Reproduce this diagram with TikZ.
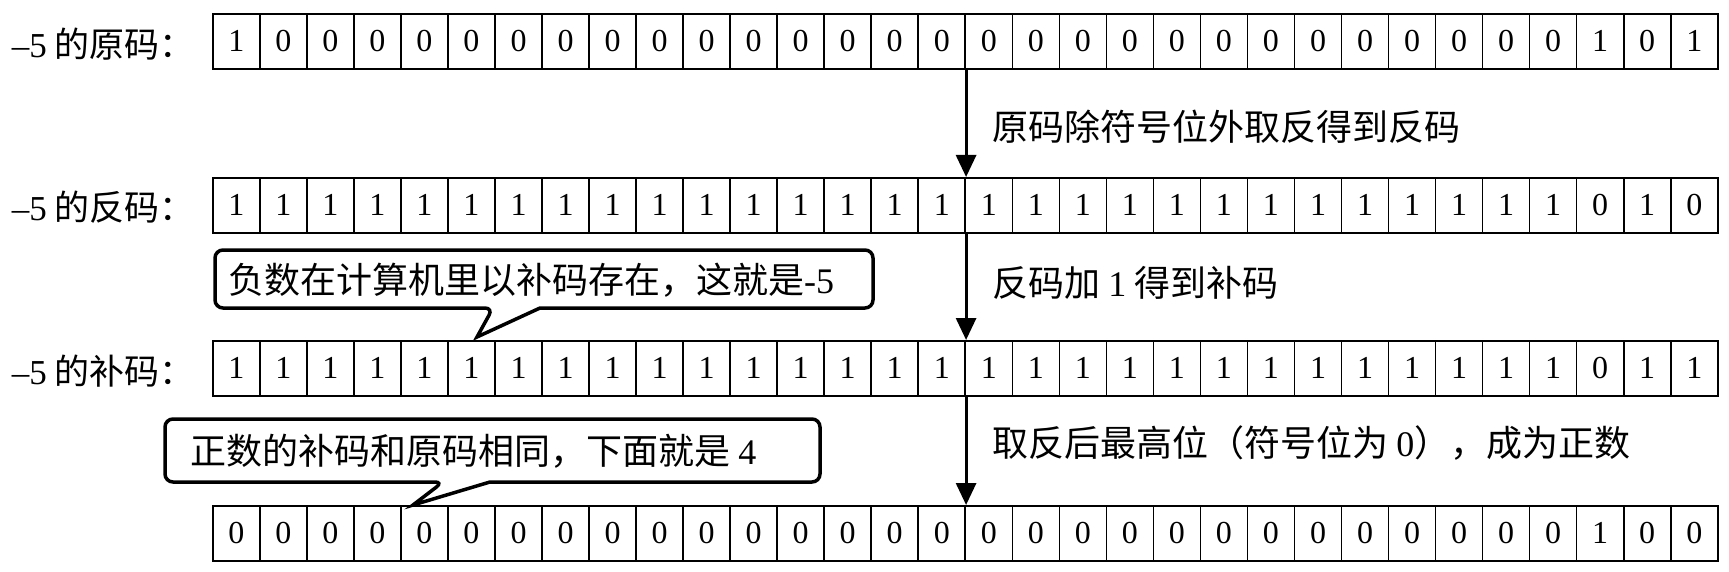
\documentclass[tikz,border=0pt]{standalone}
\usepackage{fontspec}
\setmainfont{Liberation Serif}
\newfontfamily\cjk{Noto Sans CJK SC}
\usetikzlibrary{arrows.meta}
\begin{document}
\begin{tikzpicture}[x=1pt,y=-1pt,
  cell/.style={draw,line width=1.6pt,minimum width=47.03pt,minimum height=55pt,inner sep=0pt,anchor=north west,font=\fontsize{32}{32}\selectfont},
  lbl/.style={anchor=east,font=\fontsize{35}{35}\selectfont\cjk,inner sep=0pt},
  note/.style={anchor=west,font=\fontsize{36}{36}\selectfont\cjk,inner sep=0pt},
  flow/.style={line width=3pt,-{Triangle[length=22pt,width=20pt]}},
  bubble/.style={line width=3.5pt,rounded corners=8pt,fill=white}]
\useasboundingbox (0,0) rectangle (1729,572);
\def\rowA{1,0,0,0,0,0,0,0,0,0,0,0,0,0,0,0,0,0,0,0,0,0,0,0,0,0,0,0,0,1,0,1}
\def\rowB{1,1,1,1,1,1,1,1,1,1,1,1,1,1,1,1,1,1,1,1,1,1,1,1,1,1,1,1,1,0,1,0}
\def\rowC{1,1,1,1,1,1,1,1,1,1,1,1,1,1,1,1,1,1,1,1,1,1,1,1,1,1,1,1,1,0,1,1}
\def\rowD{0,0,0,0,0,0,0,0,0,0,0,0,0,0,0,0,0,0,0,0,0,0,0,0,0,0,0,0,0,1,0,0}
\foreach \v [count=\i from 0] in \rowA {\node[cell] (a\i) at ({212+47.03*\i},13) {\v};}
\foreach \v [count=\i from 0] in \rowB {\node[cell] (b\i) at ({212+47.03*\i},177) {\v};}
\foreach \v [count=\i from 0] in \rowC {\node[cell] (c\i) at ({212+47.03*\i},340) {\v};}
\foreach \v [count=\i from 0] in \rowD {\node[cell] (d\i) at ({212+47.03*\i},505) {\v};}
\node[lbl] (la) at (195,44) {{\fontspec{Liberation Serif}–5} 的原码：};
\node[lbl] (lb) at (195,207) {{\fontspec{Liberation Serif}–5} 的反码：};
\node[lbl] (lc) at (195,371) {{\fontspec{Liberation Serif}–5} 的补码：};
\draw[flow] (a15.south east) -- (b15.north east);
\draw[flow] (b15.south east) -- (c15.north east);
\draw[flow] (c15.south east) -- (d15.north east);
\node[note] (n1) at (992,127) {原码除符号位外取反得到反码};
\node[note] (n2) at (992,283) {反码加 {\fontspec{Liberation Serif}1} 得到补码};
\node[note] (n3) at (992,443) {取反后最高位（符号位为 {\fontspec{Liberation Serif}0}），成为正数};
\coordinate (t1) at (477,337);
\draw[bubble] (540,308) -- (873,308) -- (873,250) -- (215,250) -- (215,308) -- (493,308) [sharp corners] -- (t1) -- cycle;
\node[note] (c1t) at (228,280) {负数在计算机里以补码存在，这就是{\fontspec{Liberation Serif}-5}};
\coordinate (t2) at (413,505);
\draw[bubble] (490,482) -- (820,482) -- (820,419) -- (165,419) -- (165,482) -- (443,482) [sharp corners] -- (t2) -- cycle;
\node[note] (c2t) at (190,451) {正数的补码和原码相同，下面就是 {\fontspec{Liberation Serif}4}};
\end{tikzpicture}
\end{document}
